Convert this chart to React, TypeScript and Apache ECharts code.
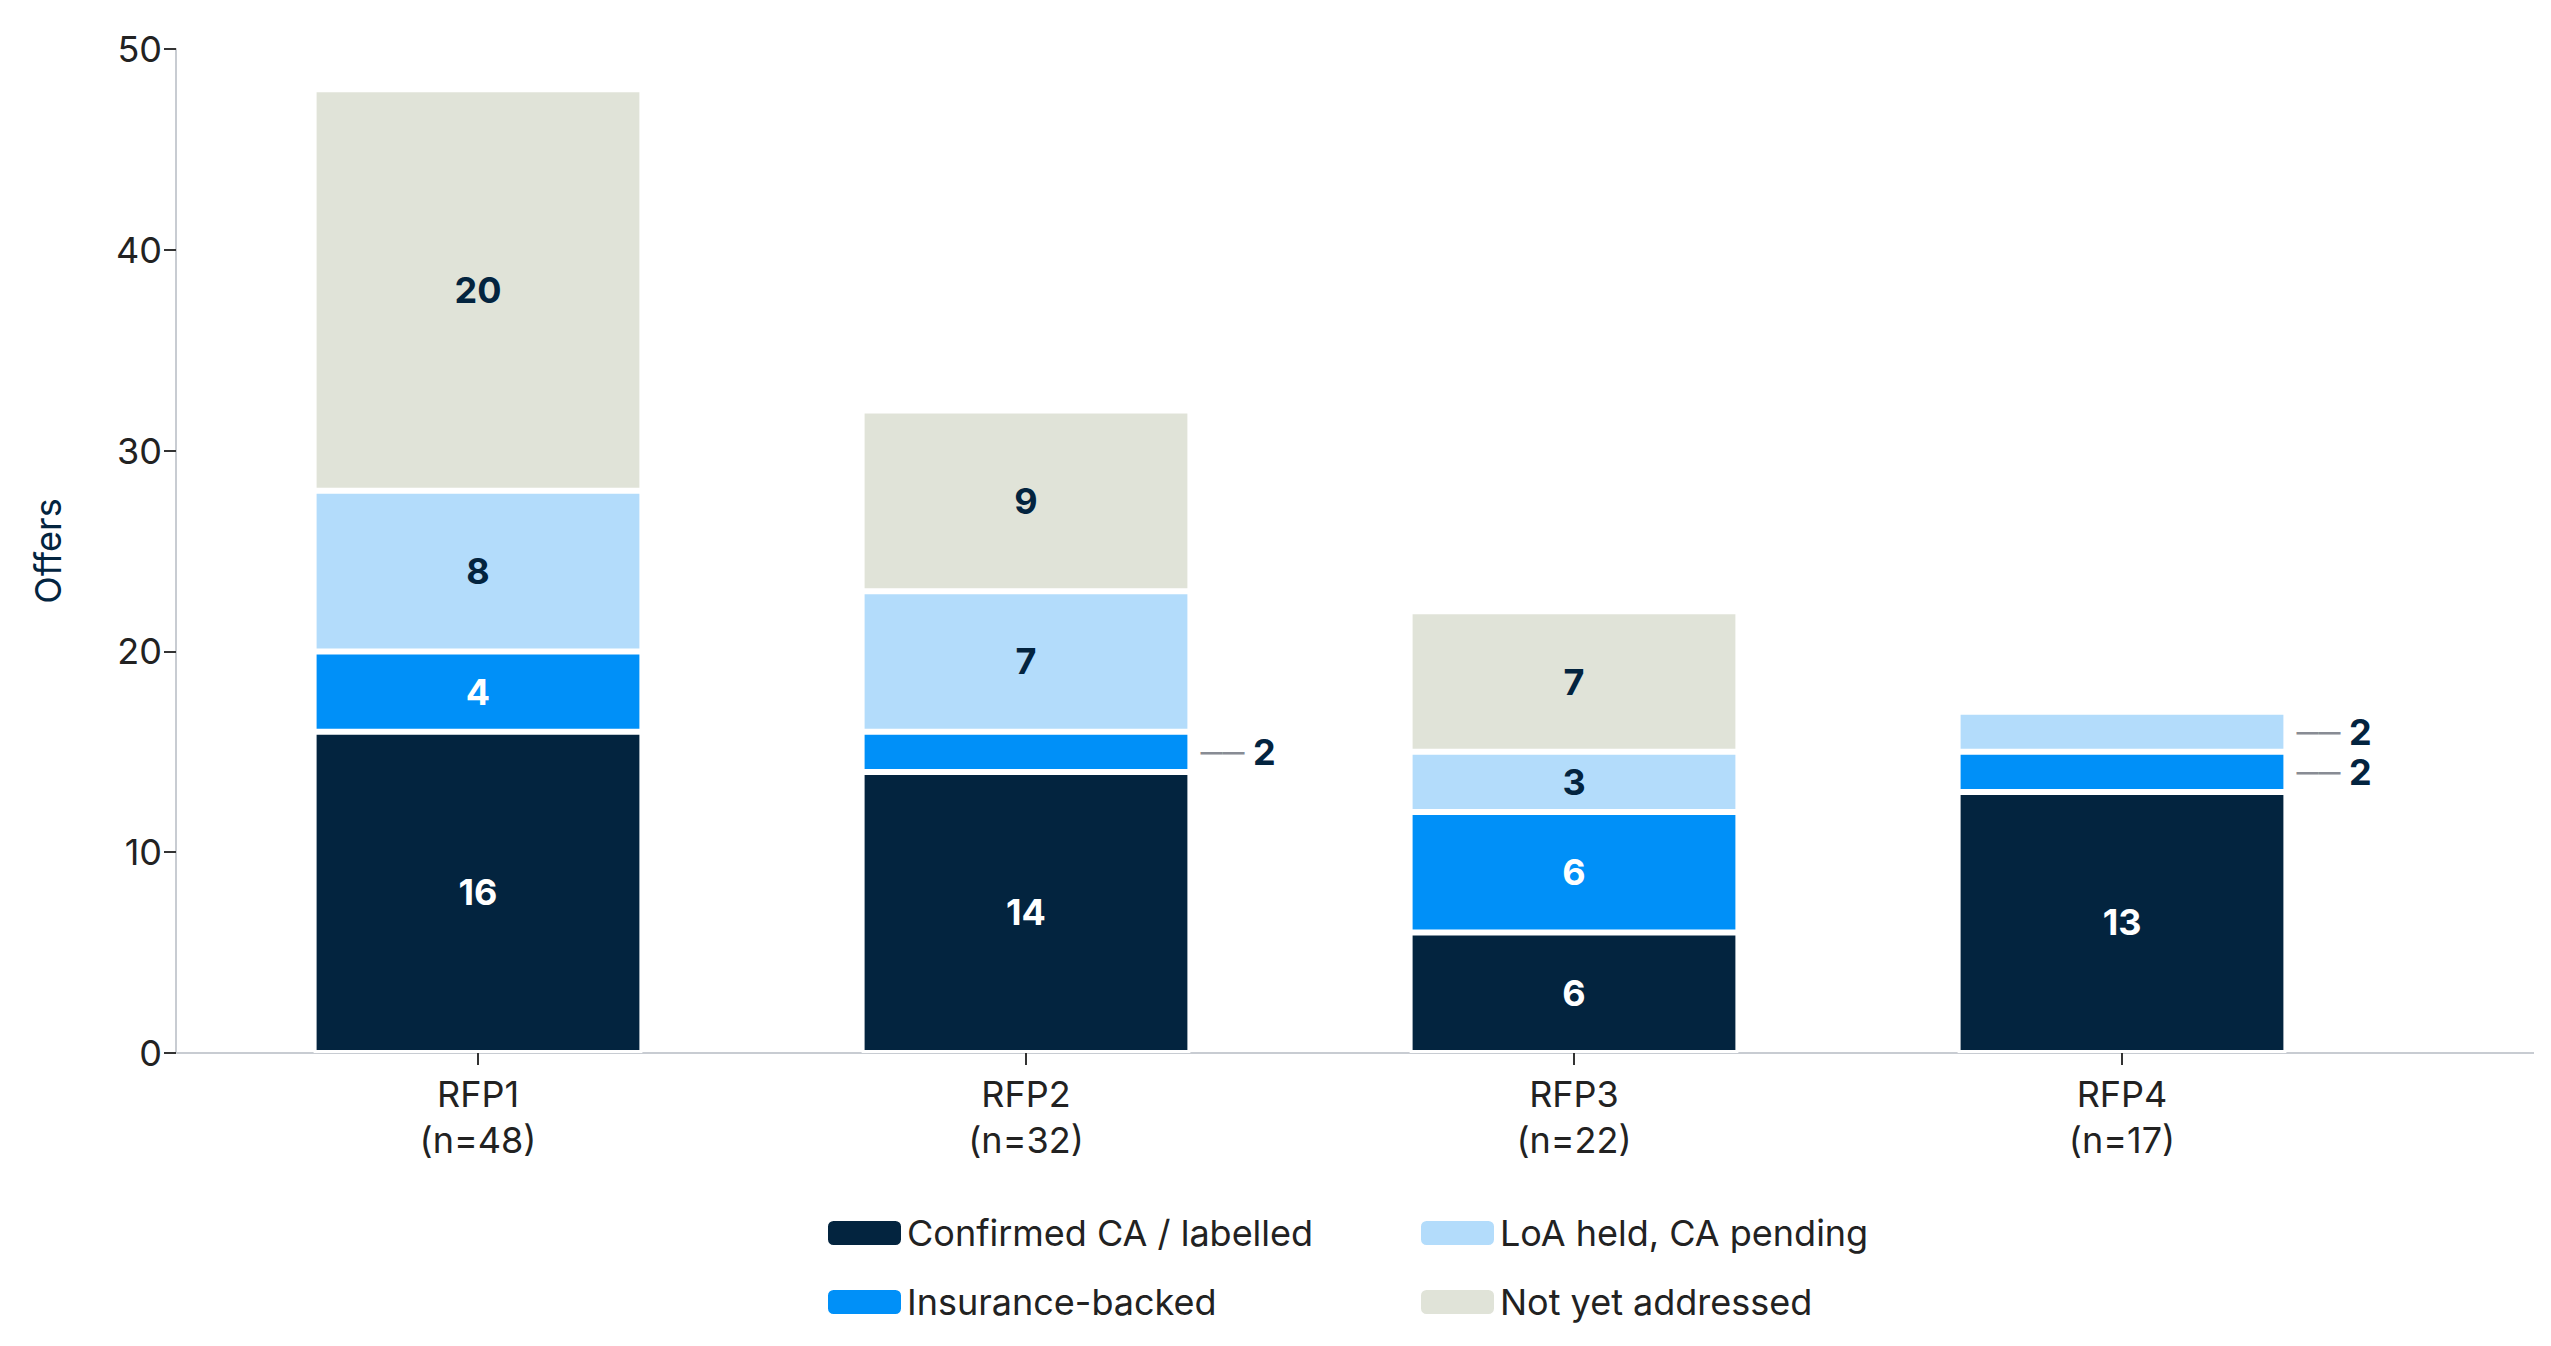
import React, { useEffect, useRef } from 'react';
import * as echarts from 'echarts';

const categories = ['RFP1\n(n=48)', 'RFP2\n(n=32)', 'RFP3\n(n=22)', 'RFP4\n(n=17)'];
const confirmed = [16, 14, 6, 13];
const insurance = [4, 2, 6, 2];
const loaHeld = [8, 7, 3, 2];
const notAddressed = [20, 9, 7, 0];
const yTicks = { min: 0, max: 50, interval: 10 };

const NAVY = '#03243f';
const BLUE = '#0090f8';
const LIGHT = '#b3dcfb';
const GREY = '#e0e3d8';
const FONT = 'Inter';

// small segments get a leader line label outside the bar
const sideLabel = {
  show: true,
  position: 'right',
  distance: 10,
  formatter: '{l|——} {v|{c}}',
  rich: {
    l: { color: '#888c94', fontSize: 22, fontFamily: FONT },
    v: { color: NAVY, fontSize: 36, fontWeight: 'bold', fontFamily: FONT },
  },
};

function toData(values: number[], small: number[]) {
  return values.map((v, i) =>
    small.includes(i) ? { value: v, label: sideLabel } : v || null,
  );
}

function makeSeries(name: string, values: number[], color: string, labelColor: string, small: number[] = []) {
  return {
    name,
    type: 'bar',
    stack: 'total',
    barWidth: '60%',
    data: toData(values, small),
    itemStyle: { color, borderColor: '#fff', borderWidth: 3 },
    label: {
      show: true,
      position: 'inside',
      color: labelColor,
      fontSize: 36,
      fontWeight: 'bold',
      fontFamily: FONT,
    },
  };
}

export default function App() {
  const ref = useRef<HTMLDivElement>(null);

  useEffect(() => {
    document.body.style.margin = '0';
    if (!ref.current) return;
    const chart = echarts.init(ref.current, undefined, { renderer: 'svg' });
    const legendText = { fontSize: 36, color: '#222', fontFamily: FONT };
    chart.setOption({
      animation: false,
      textStyle: { fontFamily: FONT },
      grid: { left: 204, right: 155, top: 49, bottom: 293 },
      legend: [
        {
          orient: 'vertical', left: 821, top: 1210,
          itemWidth: 75, itemHeight: 26, itemGap: 33,
          textStyle: legendText,
          data: ['Confirmed CA / labelled', 'Insurance-backed'],
        },
        {
          orient: 'vertical', left: 1414, top: 1210,
          itemWidth: 75, itemHeight: 26, itemGap: 33,
          textStyle: legendText,
          data: ['LoA held, CA pending', 'Not yet addressed'],
        },
      ],
      xAxis: {
        type: 'category',
        data: categories,
        axisLine: { show: false },
        axisTick: { show: true, alignWithLabel: true, length: 12, lineStyle: { color: '#333', width: 2 } },
        axisLabel: { fontSize: 36, color: '#222', lineHeight: 46, margin: 18, fontFamily: FONT },
      },
      yAxis: {
        type: 'value',
        ...yTicks,
        offset: 28,
        name: 'Offers',
        nameLocation: 'middle',
        nameGap: 110,
        nameTextStyle: { fontSize: 36, color: NAVY, fontFamily: FONT },
        splitLine: { show: false },
        axisLine: { show: true, lineStyle: { color: '#c8ccd2', width: 2 } },
        axisTick: { show: true, length: 12, lineStyle: { color: '#333', width: 2 } },
        axisLabel: { fontSize: 36, color: '#222', margin: 14, fontFamily: FONT },
      },
      graphic: [
        {
          type: 'line',
          shape: { x1: 177, y1: 1053, x2: 2534, y2: 1053 },
          style: { stroke: '#c8ccd2', lineWidth: 2 },
          z: -1,
        },
      ],
      series: [
        makeSeries('Confirmed CA / labelled', confirmed, NAVY, '#fff'),
        makeSeries('Insurance-backed', insurance, BLUE, '#fff', [1, 3]),
        makeSeries('LoA held, CA pending', loaHeld, LIGHT, NAVY, [3]),
        makeSeries('Not yet addressed', notAddressed, GREY, NAVY),
      ],
    });
    return () => chart.dispose();
  }, []);

  return <div ref={ref} style={{ width: 2551, height: 1346 }} />;
}
